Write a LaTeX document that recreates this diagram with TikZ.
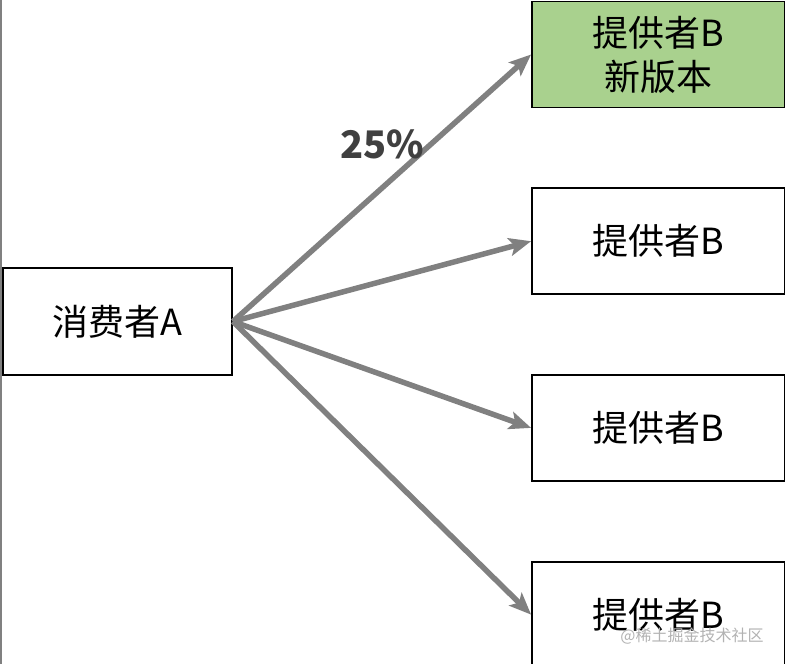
\documentclass[tikz,border=0pt]{standalone}
\usepackage{fontspec}
\setmainfont{Noto Sans CJK SC}
\usetikzlibrary{arrows.meta}
\definecolor{newgreen}{RGB}{169,209,142}
\definecolor{arrowgray}{RGB}{128,128,128}
\definecolor{labelgray}{RGB}{64,64,64}
\tikzstyle{consumer} = [rectangle, minimum width=229pt, minimum height=107pt, text centered, draw=black, line width=1.8pt]
\tikzstyle{provider} = [rectangle, minimum width=253pt, minimum height=106pt, text centered, draw=black, line width=1.8pt, align=center]
\tikzstyle{arrow} = [line width=5.5pt,-{Stealth[length=22pt,width=18pt,inset=5pt]},draw=arrowgray]

\begin{document}
\begin{tikzpicture}[x=1pt, y=-1pt, node distance=186.7pt, font=\fontsize{36}{44}\selectfont]
    \useasboundingbox (0,0) rectangle (785,664);
    \draw [arrowgray, line width=1.5pt] (0.75,0) -- (0.75,664);

    \node (cons) [consumer] at (117.5,321.5) {消费者A};
    \node (provnew) [provider, fill=newgreen] at (658.5,54.5) {提供者B\\新版本};
    \node (prov1) [provider, below of=provnew] {提供者B};
    \node (prov2) [provider, below of=prov1] {提供者B};
    \node (prov3) [provider, below of=prov2] {提供者B};

    \draw [arrow] (cons.east) -- node[pos=0.5, yshift=44pt, text=labelgray, font=\fontsize{38}{40}\selectfont\bfseries] {25\%} (provnew.west);
    \draw [arrow] (cons.east) -- (prov1.west);
    \draw [arrow] (cons.east) -- (prov2.west);
    \draw [arrow] (cons.east) -- (prov3.west);

    \node (mark) [text=black!30, font=\fontsize{16}{18}\selectfont] at (692,636) {@稀土掘金技术社区};
  \end{tikzpicture}
\end{document}
